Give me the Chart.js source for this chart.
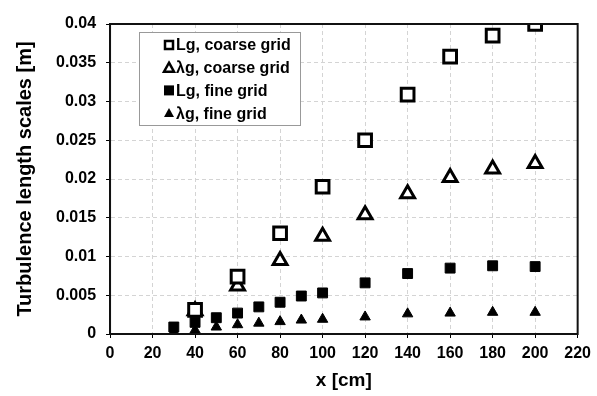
<!DOCTYPE html>
<html lang="en">
<head>
    <meta charset="UTF-8">
    <title>Turbulence length scales</title>
    <script src="https://cdn.jsdelivr.net/npm/chart.js"></script>
    <style>
        html, body { margin: 0; padding: 0; background: #fff; }
        .chart-box { width: 597px; height: 396px; position: relative; }
    </style>
</head>
<body>
    <div class="chart-box">
        <canvas id="scales-chart"></canvas>
    </div>

<script>
    // x positions [cm]
    const coarseX = [40, 60, 80, 100, 120, 140, 160, 180, 200];
    const fineX = [30, 40, 50, 60, 70, 80, 90, 100, 120, 140, 160, 180, 200];

    // length scales [m]
    const coarseLg = [0.0031, 0.0074, 0.0130, 0.0190, 0.0250, 0.0309, 0.0358, 0.0385, 0.0400];
    const coarseLambda = [0.0030, 0.0062, 0.0095, 0.0126, 0.0154, 0.0181, 0.0202, 0.0213, 0.0220];
    const fineLg = [0.0009, 0.0015, 0.0021, 0.0027, 0.0035, 0.0041, 0.0049, 0.0053, 0.0066, 0.0078, 0.0085, 0.0088, 0.0087];
    const fineLambda = [0.0003, 0.0005, 0.0009, 0.0012, 0.0014, 0.0016, 0.0018, 0.0019, 0.0022, 0.0026, 0.0027, 0.0028, 0.0028];

    const seriesLabels = ["Lg, coarse grid", "\u03BBg, coarse grid", "Lg, fine grid", "\u03BBg, fine grid"];

    const toPoints = (xs, ys) => xs.map((x, i) => ({ x: x, y: ys[i] }));

    const FONT = '"Liberation Sans", Arial, sans-serif';

    // legend box drawn inside the plot, like the original
    const insideLegend = {
        id: 'insideLegend',
        afterDatasetsDraw(chart) {
            const ctx = chart.ctx;
            const left = 139, top = 32, w = 161, h = 93;
            ctx.save();
            ctx.fillStyle = '#fff';
            ctx.fillRect(left, top, w, h);
            ctx.strokeStyle = '#999';
            ctx.lineWidth = 1;
            ctx.strokeRect(left + 0.5, top + 0.5, w, h);
            ctx.font = 'bold 16px ' + FONT;
            ctx.textBaseline = 'middle';
            chart.data.datasets.forEach((ds, i) => {
                const y = top + 13 + i * 22.7;
                const mx = 169;
                ctx.fillStyle = '#000';
                ctx.strokeStyle = '#000';
                ctx.lineWidth = 2.5;
                if (i === 0) {
                    ctx.strokeRect(mx - 4, y - 4, 8, 8);
                } else if (i === 2) {
                    ctx.fillRect(mx - 5, y - 5, 10, 10);
                } else {
                    ctx.beginPath();
                    ctx.moveTo(mx, y - 5);
                    ctx.lineTo(mx + 5, y + 4);
                    ctx.lineTo(mx - 5, y + 4);
                    ctx.closePath();
                    if (i === 1) ctx.stroke(); else ctx.fill();
                }
                ctx.fillStyle = '#000';
                ctx.fillText(ds.label, 176, y + 1);
            });
            ctx.restore();
        }
    };

    // black frame round the plot area
    const plotFrame = {
        id: 'plotFrame',
        afterDraw(chart) {
            const a = chart.chartArea;
            const ctx = chart.ctx;
            ctx.save();
            ctx.strokeStyle = '#111';
            ctx.lineWidth = 2;
            ctx.strokeRect(a.left, a.top, a.right - a.left, a.bottom - a.top);
            ctx.restore();
        }
    };

    const tickFont = { family: FONT, size: 16, weight: 'bold' };

    new Chart(document.getElementById("scales-chart"), {
        type: 'scatter',
        data: {
            datasets: [
                {
                    label: seriesLabels[0],
                    data: toPoints(coarseX, coarseLg),
                    pointStyle: 'rect',
                    pointRadius: 9,
                    borderWidth: 3,
                    borderColor: '#000',
                    backgroundColor: '#fff'
                },
                {
                    label: seriesLabels[1],
                    data: toPoints(coarseX, coarseLambda),
                    pointStyle: 'triangle',
                    pointRadius: 8,
                    borderWidth: 3,
                    borderColor: '#000',
                    backgroundColor: '#fff'
                },
                {
                    label: seriesLabels[2],
                    data: toPoints(fineX, fineLg),
                    pointStyle: 'rect',
                    pointRadius: 7,
                    borderWidth: 1,
                    borderColor: '#000',
                    backgroundColor: '#000'
                },
                {
                    label: seriesLabels[3],
                    data: toPoints(fineX, fineLambda),
                    pointStyle: 'triangle',
                    pointRadius: 6,
                    borderWidth: 1,
                    borderColor: '#000',
                    backgroundColor: '#000'
                }
            ]
        },
        options: {
            responsive: true,
            maintainAspectRatio: false,
            animation: false,
            layout: { padding: { left: 5, right: 6, top: 24, bottom: 0 } },
            plugins: {
                legend: { display: false },
                tooltip: { enabled: false }
            },
            scales: {
                x: {
                    type: 'linear',
                    min: 0,
                    max: 220,
                    ticks: { stepSize: 20, color: '#000', font: tickFont, padding: 6 },
                    grid: { color: '#d4d4d4', tickColor: '#000', tickLength: 4, lineWidth: 1 },
                    border: { color: '#111', width: 2, dash: [4, 3] },
                    title: { display: true, text: 'x [cm]', color: '#000', font: { family: FONT, size: 19, weight: 'bold' }, padding: { top: 0, bottom: 4 } }
                },
                y: {
                    min: 0,
                    max: 0.04,
                    ticks: {
                        stepSize: 0.005,
                        color: '#000',
                        font: tickFont,
                        padding: 10,
                        callback: v => String(+v.toFixed(3))
                    },
                    grid: { color: '#d4d4d4', tickColor: '#000', tickLength: 4, lineWidth: 1 },
                    border: { color: '#111', width: 2, dash: [4, 3] },
                    title: { display: true, text: 'Turbulence length scales [m]', color: '#000', font: { family: FONT, size: 20, weight: 'bold' }, padding: { top: 8, bottom: 9 } }
                }
            }
        },
        plugins: [insideLegend, plotFrame]
    });
</script>
</body>
</html>
